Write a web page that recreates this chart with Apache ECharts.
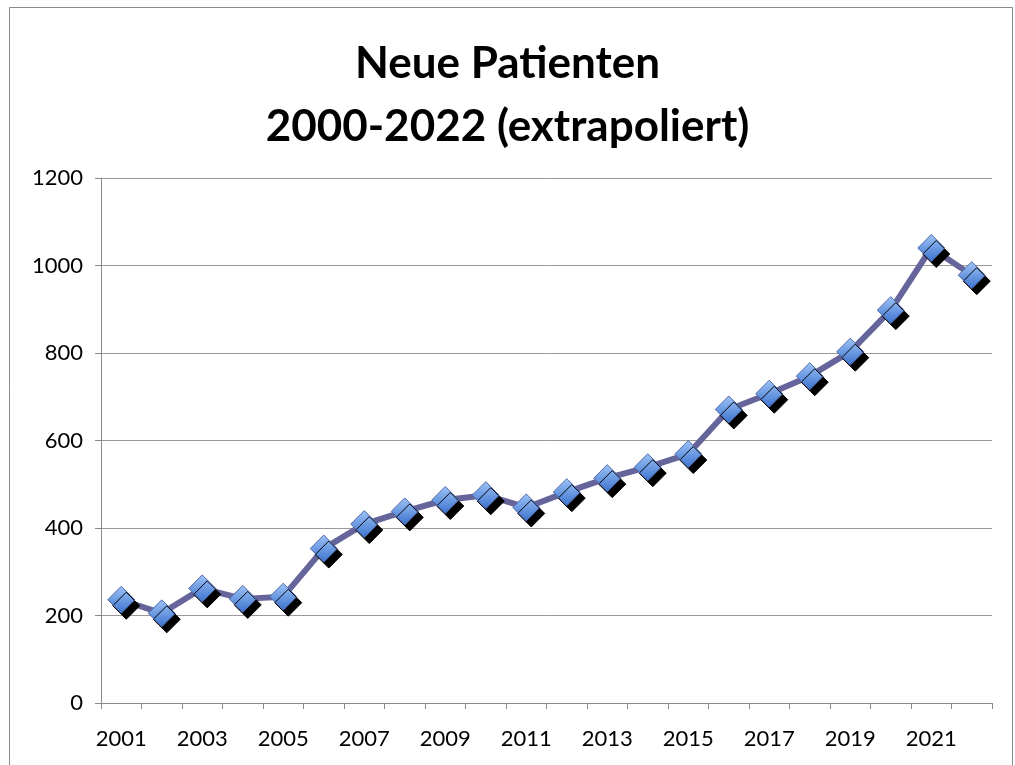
<!DOCTYPE html>
<html><head><meta charset="utf-8">
<script src="https://cdn.jsdelivr.net/npm/echarts@6/dist/echarts.min.js"></script>
<style>html,body{margin:0;padding:0;background:#fff}#c{width:1015px;height:765px}</style>
</head><body><div id="c"></div>
<script>
const categories = ['2001','2002','2003','2004','2005','2006','2007','2008','2009','2010','2011','2012','2013','2014','2015','2016','2017','2018','2019','2020','2021','2022'];
const patients = [236,205,262,238,243,353,409,438,464,475,447,482,514,539,569,671,707,747,803,898,1040,978];
const yTicks = [0,200,400,600,800,1000,1200];
const titleText = 'Neue Patienten\n2000-2022 (extrapoliert)';

const chart = echarts.init(document.getElementById('c'));
chart.setOption({
  animation: false,
  backgroundColor: '#fff',
  title: {
    text: titleText, left: 'center', top: 27,
    textStyle: {fontFamily: 'Lato', fontWeight: 'bold', fontSize: 44, lineHeight: 63, color: '#000'}
  },
  graphic: [{type:'rect', shape:{x:9.5,y:7.5,width:1003,height:800}, style:{fill:'none', stroke:'#8a8a8a', lineWidth:1}, silent:true}],
  grid: {left: 101, right: 23, top: 178, bottom: 62, containLabel: false},
  xAxis: {
    type: 'category', data: categories, boundaryGap: true,
    axisLine: {lineStyle: {color: '#8a8a8a', width: 1}},
    axisTick: {show: true, interval: 0, length: 6, lineStyle: {color: '#8a8a8a'}},
    axisLabel: {interval: 1, color: '#000', fontFamily: 'Lato', fontSize: 22, margin: 25},
    splitLine: {show: false}
  },
  yAxis: {
    type: 'value', min: yTicks[0], max: yTicks[yTicks.length-1], interval: 200,
    axisLine: {show: true, lineStyle: {color: '#8a8a8a', width: 1}},
    axisTick: {show: true, length: 6, lineStyle: {color: '#8a8a8a'}},
    axisLabel: {color: '#000', fontFamily: 'Lato', fontSize: 22, margin: 18, formatter: v => String(v)},
    splitLine: {show: true, lineStyle: {color: '#9a9a9a', width: 1}}
  },
  series: [{
    type: 'line', data: patients,
    symbol: 'diamond', symbolSize: [27,27],
    lineStyle: {color: '#66659b', width: 6},
    itemStyle: {
      color: new echarts.graphic.LinearGradient(0,0,0,1,[{offset:0,color:'#9fc4f6'},{offset:1,color:'#3b72cf'}]),
      borderColor: '#5068a8', borderWidth: 1,
      shadowColor: '#000', shadowOffsetX: 5, shadowOffsetY: 6, shadowBlur: 0
    },
    emphasis: {disabled: true}
  }]
});
</script></body></html>
